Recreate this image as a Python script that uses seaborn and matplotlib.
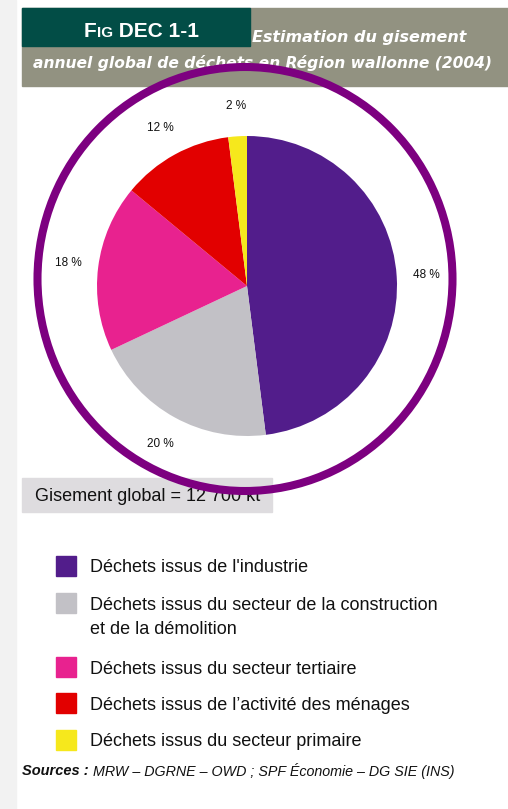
import matplotlib
matplotlib.use("Agg")
import matplotlib.pyplot as plt
import seaborn as sns
from matplotlib.patches import Rectangle, Ellipse

# data
categories = [
    "Déchets issus de l'industrie",
    "Déchets issus du secteur de la construction\net de la démolition",
    "Déchets issus du secteur tertiaire",
    "Déchets issus de l’activité des ménages",
    "Déchets issus du secteur primaire",
]
shares = [48, 20, 18, 12, 2]
colors = ["#521d8b", "#c2c1c6", "#e8228f", "#e20000", "#f6e81c"]
total_label = "Gisement global = 12 700 kt"
title_1 = "Estimation du gisement"
title_2 = "annuel global de déchets en Région wallonne (2004)"
source_head = "Sources :"
source_body = " MRW – DGRNE – OWD ; SPF Économie – DG SIE (INS)"

sns.set_theme(style="white")
plt.rcParams["font.family"] = ["Liberation Sans", "DejaVu Sans"]

W, H = 508, 809
fig = plt.figure(figsize=(W / 100, H / 100), dpi=100)
fig.patch.set_facecolor("white")

# pie axes: center (247, 286) px, radius 150 px
cx, cy, r = 247, 286, 150
side = 2.5 * r
pie_ax = fig.add_axes([(cx - side / 2) / W, (H - cy - side / 2) / H, side / W, side / H])
pie_ax.pie(
    shares,
    colors=colors,
    startangle=90,
    counterclock=False,
    autopct=lambda p: f"{round(p)} %",
    pctdistance=1.2,
    wedgeprops=dict(linewidth=0),
    textprops=dict(fontsize=8.5, color="#111111"),
)

# overlay in pixel coordinates
ax = fig.add_axes([0, 0, 1, 1], zorder=5)
ax.set_xlim(0, W)
ax.set_ylim(H, 0)
ax.axis("off")

ax.add_patch(Rectangle((0, 0), 16, H, color="#f2f2f2", zorder=0))


def right_edge(txt):
    fig.canvas.draw()
    return ax.transData.inverted().transform((txt.get_window_extent().x1, 0))[0]


# header
ax.add_patch(Rectangle((22, 8), W - 22, 78, color="#929281", zorder=1))
ax.add_patch(Rectangle((22, 8), 228, 38, color="#024d46", zorder=2))
f1 = ax.text(84, 37, "F", color="white", fontsize=15, fontweight="bold",
             ha="left", va="baseline", zorder=3)
f2 = ax.text(right_edge(f1), 37, "IG", color="white", fontsize=11, fontweight="bold",
             ha="left", va="baseline", zorder=3)
ax.text(right_edge(f2), 37, " DEC 1-1", color="white", fontsize=15, fontweight="bold",
        ha="left", va="baseline", zorder=3)
ax.text(252, 37, title_1, color="white", fontsize=11.5, fontweight="bold",
        style="italic", family="DejaVu Sans", ha="left", va="center", zorder=3)
ax.text(33, 63, title_2, color="white", fontsize=11.2, fontweight="bold",
        style="italic", family="DejaVu Sans", ha="left", va="center", zorder=3)

# total box
ax.add_patch(Rectangle((22, 478), 250, 34, color="#dedcdf", zorder=1))
ax.text(35, 496, total_label, fontsize=13, color="#111111",
        ha="left", va="center", zorder=2)

# highlight ring
ax.add_patch(Ellipse((245, 279), 415, 424, fill=False, edgecolor="#7d0080",
                     linewidth=5.8, zorder=4))

# legend
legend_y = [566, 603, 667, 703, 740]
for name, col, y in zip(categories, colors, legend_y):
    ax.add_patch(Rectangle((56, y - 10), 20, 20, color=col, zorder=2))
    for i, line in enumerate(name.split("\n")):
        ax.text(90, y + 6.5 + 25 * i, line, fontsize=13, color="#111111",
                ha="left", va="baseline", zorder=2)

# sources
t = ax.text(22, 771, source_head, fontsize=10.5, fontweight="bold",
            style="italic", color="#111111", ha="left", va="center")
ax.text(right_edge(t), 771, source_body, fontsize=10.3, style="italic",
        color="#111111", ha="left", va="center")

fig.savefig("out.png", dpi=100)
